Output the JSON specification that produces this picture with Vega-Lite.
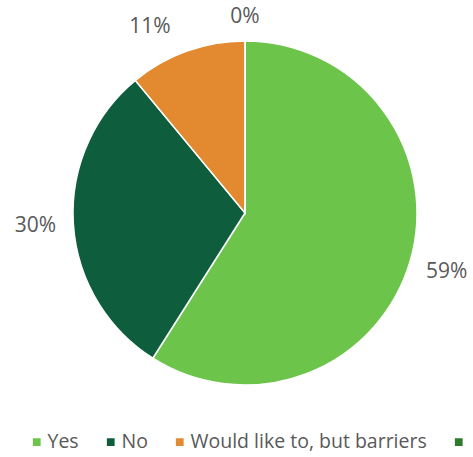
{
  "$schema": "https://vega.github.io/schema/vega-lite/v6.json",
  "width": 490,
  "height": 426,
  "autosize": "none",
  "padding": {"left": 0, "top": 0, "right": 0, "bottom": 31},
  "background": "white",
  "data": {
    "values": [
      {"category": "Yes", "value": 59, "label": "59%", "order": 1},
      {"category": "No", "value": 30, "label": "30%", "order": 2},
      {"category": "Would like to, but barriers", "value": 11, "label": "11%", "order": 3},
      {"category": "Other", "value": 0, "label": "0%", "order": 4}
    ]
  },
  "encoding": {
    "theta": {"field": "value", "type": "quantitative", "stack": true},
    "order": {"field": "order", "type": "quantitative"}
  },
  "layer": [
    {
      "mark": {"type": "arc", "radius": 172, "stroke": "white", "strokeWidth": 1.5},
      "encoding": {
        "color": {
          "field": "category",
          "type": "nominal",
          "scale": {
            "domain": ["Yes", "No", "Would like to, but barriers", "Other"],
            "range": ["#6cc44a", "#0e5e3e", "#e3892f", "#2e7a2a"]
          },
          "legend": {
            "title": null,
            "orient": "none",
            "legendX": 27,
            "legendY": 432,
            "direction": "horizontal",
            "symbolType": "square",
            "symbolSize": 60,
            "symbolStrokeWidth": 0,
            "labelFont": "Open Sans",
            "labelFontSize": 19.5,
            "labelColor": "#595959",
            "labelOffset": 1,
            "columnPadding": 22,
            "labelLimit": 400,
            "labelExpr": "datum.label == 'Other' ? '' : datum.label"
          }
        }
      }
    },
    {
      "mark": {"type": "text", "radius": 210, "font": "Open Sans", "fontSize": 21, "color": "#595959"},
      "encoding": {
        "text": {"condition": {"test": "datum.category == 'Yes' || datum.category == 'No'", "field": "label"}, "value": ""}
      }
    },
    {
      "mark": {"type": "text", "radius": 210, "font": "Open Sans", "fontSize": 21, "color": "#595959", "dx": -24, "dy": 12},
      "encoding": {
        "text": {"condition": {"test": "datum.category == 'Would like to, but barriers'", "field": "label"}, "value": ""}
      }
    },
    {
      "mark": {"type": "text", "radius": 196, "font": "Open Sans", "fontSize": 21, "color": "#595959"},
      "encoding": {
        "text": {"condition": {"test": "datum.category == 'Other'", "field": "label"}, "value": ""}
      }
    }
  ]
}
